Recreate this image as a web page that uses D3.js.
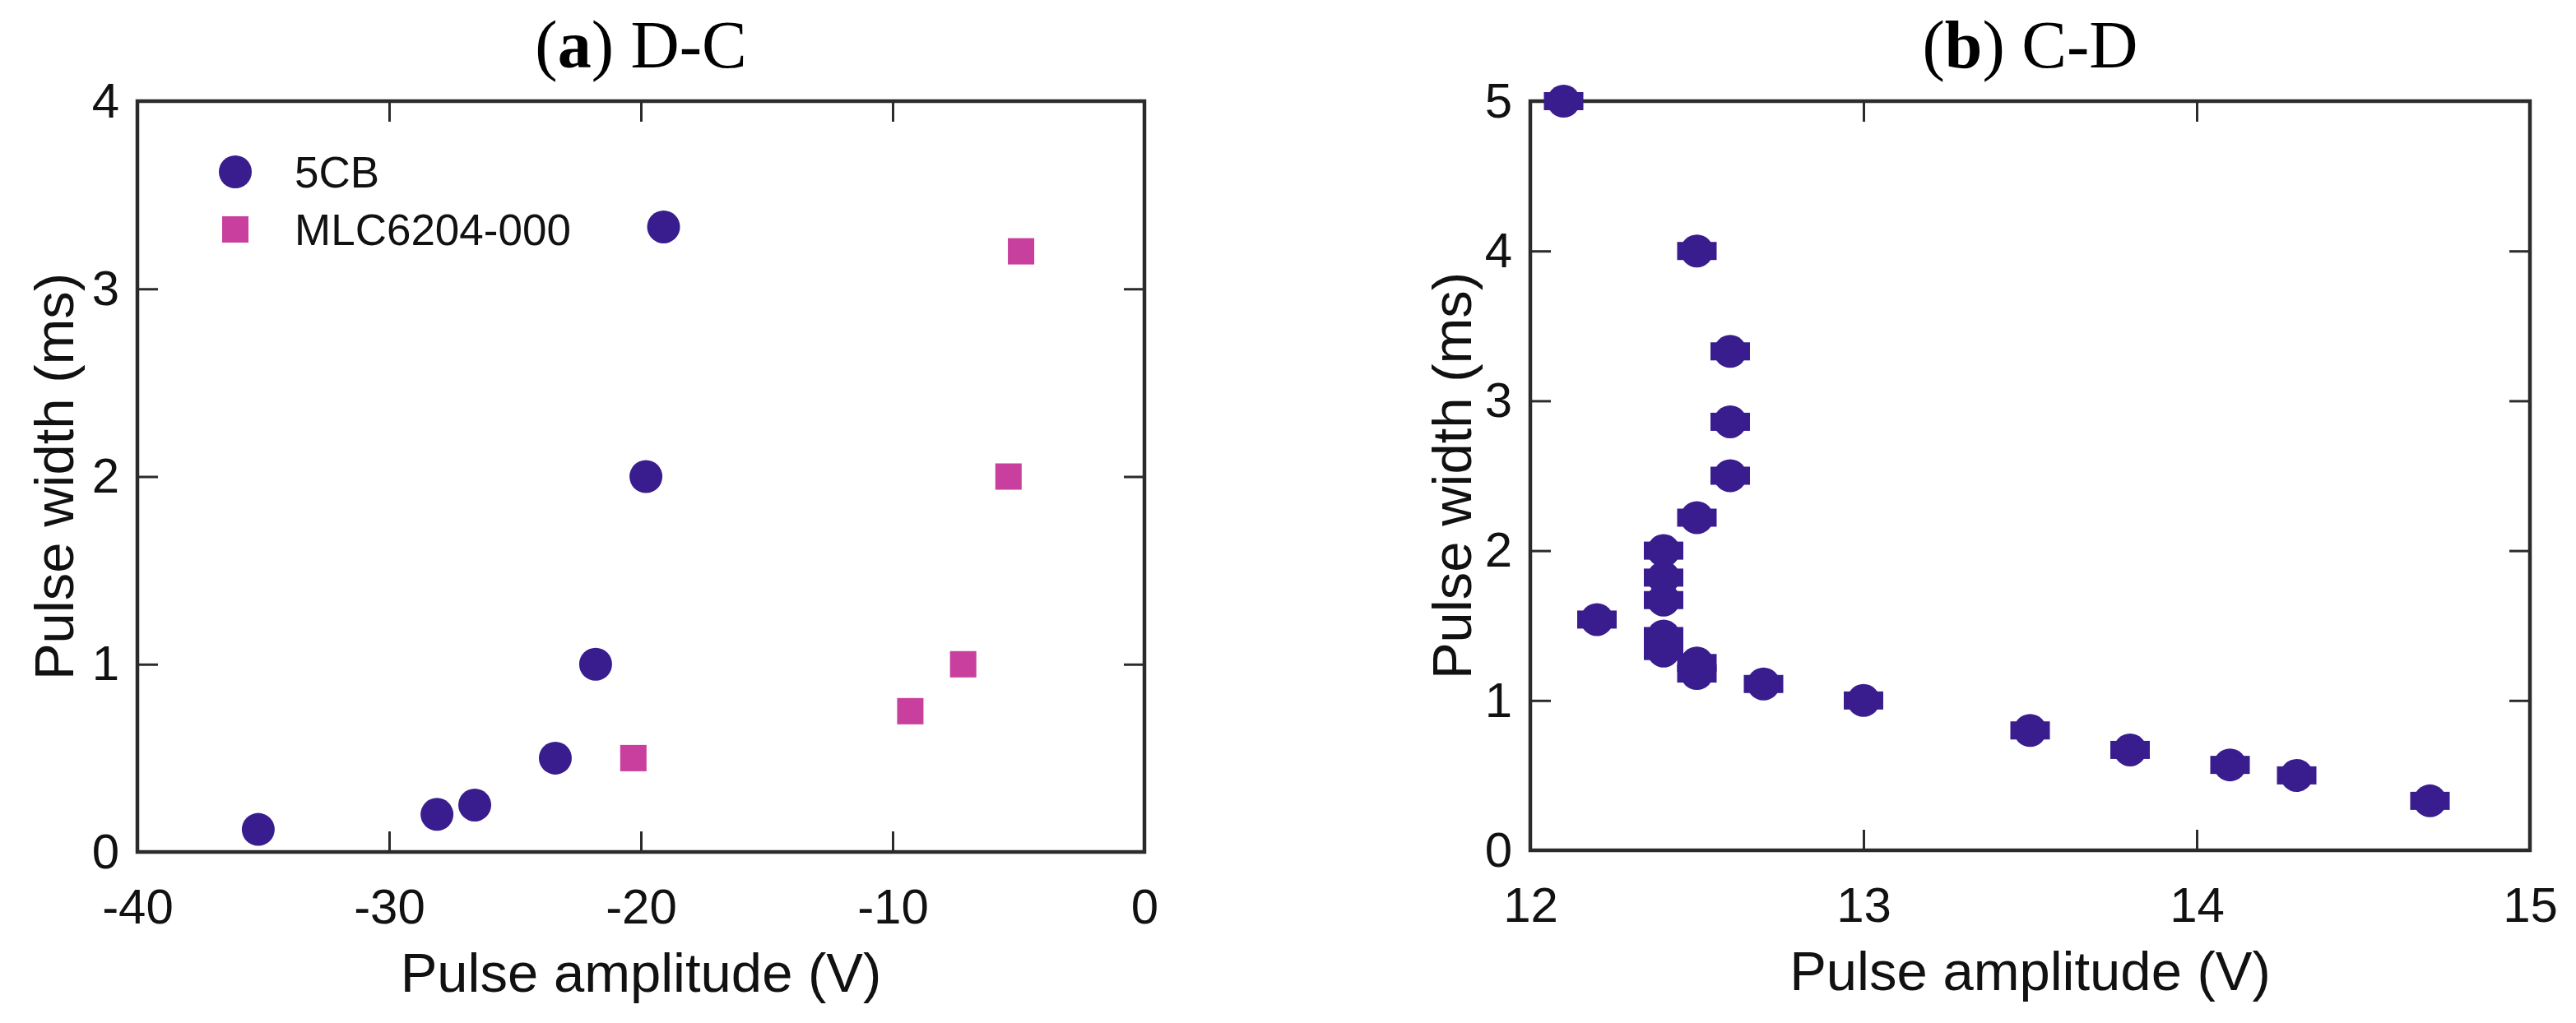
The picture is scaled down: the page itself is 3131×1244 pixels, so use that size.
<!DOCTYPE html>
<html>
<head>
<meta charset="utf-8">
<script src="https://cdn.jsdelivr.net/npm/d3@7"></script>
<style>
  body { margin: 0; background: #fff; }
  .tick text { font-family: "Liberation Sans", Arial, sans-serif; fill: #111; }
</style>
</head>
<body>
<script>
var W = 3131, H = 1244;

// (a) D-C data
var cbAmp   = [-35.2, -28.1, -26.6, -23.4, -21.8, -19.8, -19.1];
var cbWidth = [0.12, 0.2, 0.25, 0.5, 1.0, 2.0, 3.33];
var mlcAmp   = [-20.3, -9.3, -7.2, -5.4, -4.9];
var mlcWidth = [0.5, 0.75, 1.0, 2.0, 3.2];
var xTicksA = [-40, -30, -20, -10, 0];
var yTicksA = [0, 1, 2, 3, 4];

// (b) C-D data
var cdAmp   = [12.1, 12.5, 12.6, 12.6, 12.6, 12.5, 12.4, 12.4, 12.4, 12.2, 12.4,
               12.4, 12.5, 12.5, 12.7, 13.0, 13.5, 13.8, 14.1, 14.3, 14.7];
var cdWidth = [5.0, 4.0, 3.33, 2.86, 2.5, 2.22, 2.0, 1.82, 1.67, 1.54, 1.43,
               1.33, 1.25, 1.18, 1.11, 1.0, 0.8, 0.67, 0.57, 0.5, 0.33];
var xTicksB = [12, 13, 14, 15];
var yTicksB = [0, 1, 2, 3, 4, 5];

var circleColor = "#391d8e";
var squareColor = "#c93f9e";
var frameColor = "#2b2b2b";

var svg = d3.select("body").append("svg")
    .attr("width", W)
    .attr("height", H);

// plain hyphen labels, like the original
var fmt = function(d) { return String(d); };

function panel(box, xDomain, yDomain, xTicks, yTicks, title, letter, yTitleOff) {
  var g = svg.append("g");
  var x = d3.scaleLinear().domain(xDomain).range([box.left, box.right]);
  var y = d3.scaleLinear().domain(yDomain).range([box.bottom, box.top]);
  var inner = function(t, dom) { return t != dom[0] && t != dom[1]; };

  // ticks with labels (bottom, left) and plain ticks (top, right)
  var xb = g.append("g").attr("transform", "translate(0," + box.bottom + ")")
    .call(d3.axisBottom(x).tickValues(xTicks).tickSize(-25).tickPadding(44).tickFormat(fmt));
  var yl = g.append("g").attr("transform", "translate(" + box.left + ",0)")
    .call(d3.axisLeft(y).tickValues(yTicks).tickSize(-25).tickPadding(22).tickFormat(fmt));
  g.append("g").attr("transform", "translate(0," + box.top + ")")
    .call(d3.axisTop(x).tickValues(xTicks.filter(function(t){return inner(t, xDomain);})).tickSize(-25).tickFormat(""));
  g.append("g").attr("transform", "translate(" + box.right + ",0)")
    .call(d3.axisRight(y).tickValues(yTicks.filter(function(t){return inner(t, yDomain);})).tickSize(-25).tickFormat(""));

  g.selectAll(".domain").remove();
  g.selectAll(".tick line").attr("stroke", frameColor).attr("stroke-width", 3);
  g.selectAll(".tick text").attr("font-size", 60);

  // remove end ticks on labelled axes (they sit on the frame)
  xb.selectAll(".tick line").each(function(d) { if (!inner(d, xDomain)) this.remove(); });
  yl.selectAll(".tick line").each(function(d) { if (!inner(d, yDomain)) this.remove(); });

  g.append("rect")
    .attr("x", box.left).attr("y", box.top)
    .attr("width", box.right - box.left).attr("height", box.bottom - box.top)
    .attr("fill", "none").attr("stroke", frameColor).attr("stroke-width", 4.5);

  // axis titles
  g.append("text")
    .attr("x", (box.left + box.right) / 2).attr("y", box.bottom + 170)
    .attr("text-anchor", "middle")
    .attr("font-family", "Liberation Sans, Arial, sans-serif")
    .attr("font-size", 67).attr("fill", "#111")
    .text("Pulse amplitude (V)");
  g.append("text")
    .attr("transform", "translate(" + (box.left - yTitleOff) + "," + ((box.top + box.bottom) / 2) + ") rotate(-90)")
    .attr("text-anchor", "middle")
    .attr("font-family", "Liberation Sans, Arial, sans-serif")
    .attr("font-size", 67).attr("fill", "#111")
    .text("Pulse width (ms)");

  // panel title
  var t = g.append("text")
    .attr("x", (box.left + box.right) / 2).attr("y", 82)
    .attr("text-anchor", "middle")
    .attr("font-family", "Liberation Serif, 'Times New Roman', serif")
    .attr("font-size", 82).attr("fill", "#000");
  t.append("tspan").text("(");
  t.append("tspan").attr("font-weight", "bold").text(letter);
  t.append("tspan").text(") " + title);

  return {g: g, x: x, y: y};
}

// (a) D-C
var pa = panel({left: 167, right: 1391, top: 123, bottom: 1036},
  [-40, 0], [0, 4], xTicksA, yTicksA, "D-C", "a", 78);

pa.g.selectAll("circle.cb")
  .data(d3.range(cbAmp.length))
  .enter().append("circle")
  .attr("class", "cb")
  .attr("cx", function(i){ return pa.x(cbAmp[i]); })
  .attr("cy", function(i){ return pa.y(cbWidth[i]); })
  .attr("r", 20)
  .attr("fill", circleColor);

pa.g.selectAll("rect.mlc")
  .data(d3.range(mlcAmp.length))
  .enter().append("rect")
  .attr("class", "mlc")
  .attr("x", function(i){ return pa.x(mlcAmp[i]) - 16; })
  .attr("y", function(i){ return pa.y(mlcWidth[i]) - 16; })
  .attr("width", 32).attr("height", 32)
  .attr("fill", squareColor);

// legend
var lg = pa.g.append("g");
lg.append("circle").attr("cx", 286).attr("cy", 209).attr("r", 20).attr("fill", circleColor);
lg.append("rect").attr("x", 270).attr("y", 263).attr("width", 32).attr("height", 32).attr("fill", squareColor);
lg.append("text").attr("x", 358).attr("y", 228)
  .attr("font-family", "Liberation Sans, Arial, sans-serif").attr("font-size", 53).attr("fill", "#111")
  .text("5CB");
lg.append("text").attr("x", 358).attr("y", 298)
  .attr("font-family", "Liberation Sans, Arial, sans-serif").attr("font-size", 53).attr("fill", "#111")
  .text("MLC6204-000");

// (b) C-D
var pb = panel({left: 1860, right: 3075, top: 123, bottom: 1034},
  [12, 15], [0, 5], xTicksB, yTicksB, "C-D", "b", 72);

var marks = pb.g.selectAll("g.cd")
  .data(d3.range(cdAmp.length))
  .enter().append("g")
  .attr("class", "cd")
  .attr("transform", function(i){ return "translate(" + pb.x(cdAmp[i]) + "," + pb.y(cdWidth[i]) + ")"; });
marks.append("circle").attr("r", 20).attr("fill", circleColor);
marks.append("rect").attr("x", -24).attr("y", -11).attr("width", 48).attr("height", 22).attr("fill", circleColor);
</script>
</body>
</html>
